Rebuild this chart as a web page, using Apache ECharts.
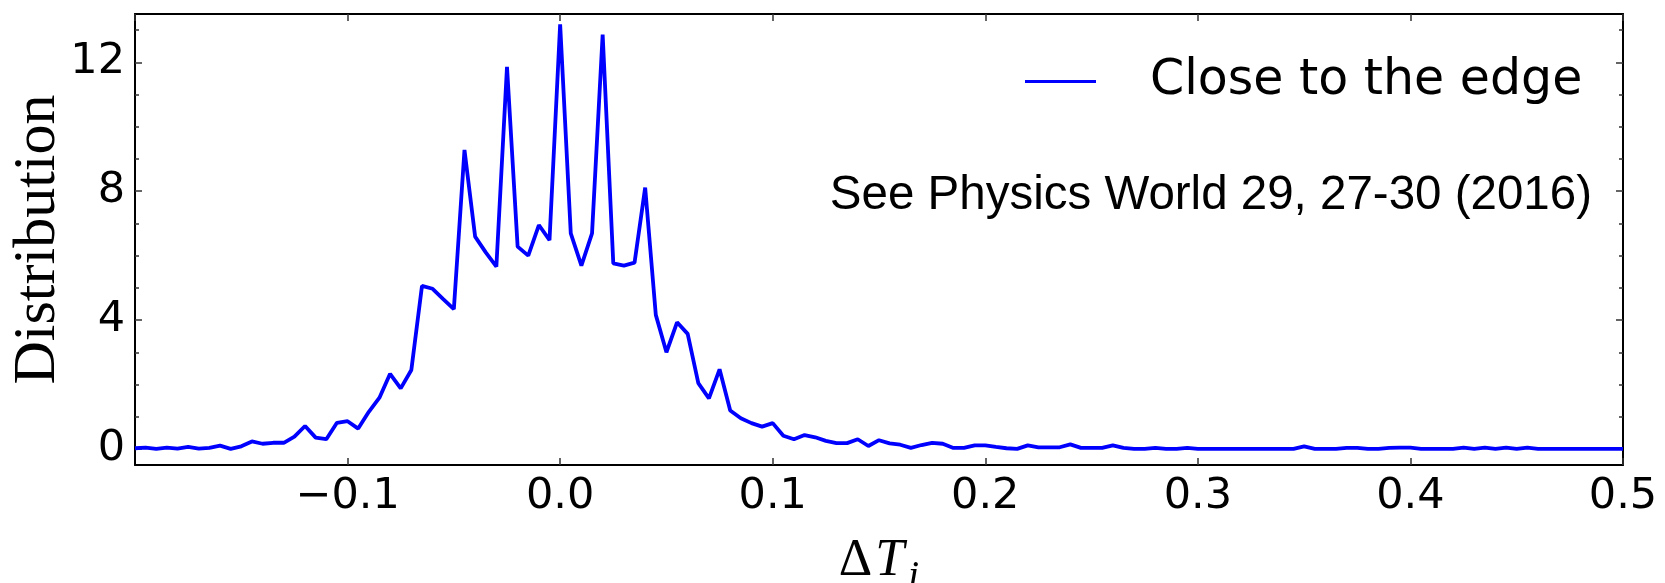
<!DOCTYPE html>
<html>
<head>
<meta charset="utf-8">
<script src="https://cdn.jsdelivr.net/npm/echarts@6/dist/echarts.min.js"></script>
<style>
  html, body { margin: 0; padding: 0; background: #fff; }
  #chart { width: 1665px; height: 583px; }
</style>
</head>
<body>
<div id="chart"></div>
<script>
// Bin centres of the ΔT_i histogram (step 0.005)
const deltaT = [
  -0.200, -0.195, -0.190, -0.185, -0.180, -0.175, -0.170, -0.165, -0.160, -0.155,
  -0.150, -0.145, -0.140, -0.135, -0.130, -0.125, -0.120, -0.115, -0.110, -0.105,
  -0.100, -0.095, -0.090, -0.085, -0.080, -0.075, -0.070, -0.065, -0.060, -0.055,
  -0.050, -0.045, -0.040, -0.035, -0.030, -0.025, -0.020, -0.015, -0.010, -0.005,
   0.000,  0.005,  0.010,  0.015,  0.020,  0.025,  0.030,  0.035,  0.040,  0.045,
   0.050,  0.055,  0.060,  0.065,  0.070,  0.075,  0.080,  0.085,  0.090,  0.095,
   0.100,  0.105,  0.110,  0.115,  0.120,  0.125,  0.130,  0.135,  0.140,  0.145,
   0.150,  0.155,  0.160,  0.165,  0.170,  0.175,  0.180,  0.185,  0.190,  0.195,
   0.200,  0.205,  0.210,  0.215,  0.220,  0.225,  0.230,  0.235,  0.240,  0.245,
   0.250,  0.255,  0.260,  0.265,  0.270,  0.275,  0.280,  0.285,  0.290,  0.295,
   0.300,  0.305,  0.310,  0.315,  0.320,  0.325,  0.330,  0.335,  0.340,  0.345,
   0.350,  0.355,  0.360,  0.365,  0.370,  0.375,  0.380,  0.385,  0.390,  0.395,
   0.400,  0.405,  0.410,  0.415,  0.420,  0.425,  0.430,  0.435,  0.440,  0.445,
   0.450,  0.455,  0.460,  0.465,  0.470,  0.475,  0.480,  0.485,  0.490,  0.495,
   0.500
];

// Distribution values, "Close to the edge"
const closeToEdge = [
  0.02, 0.04, 0.00, 0.04, 0.01, 0.06, 0.01, 0.03, 0.10, 0.00,
  0.08, 0.23, 0.16, 0.19, 0.19, 0.38, 0.71, 0.35, 0.30, 0.81,
  0.86, 0.63, 1.15, 1.59, 2.33, 1.88, 2.45, 5.06, 4.97, 4.65,
  4.34, 9.28, 6.59, 6.10, 5.66, 11.86, 6.28, 6.00, 6.95, 6.48,
  13.18, 6.69, 5.69, 6.69, 12.86, 5.76, 5.69, 5.78, 8.11, 4.16,
  3.00, 3.93, 3.57, 2.04, 1.57, 2.47, 1.19, 0.95, 0.80, 0.69,
  0.80, 0.41, 0.30, 0.43, 0.36, 0.25, 0.18, 0.18, 0.30, 0.09,
  0.27, 0.17, 0.13, 0.03, 0.12, 0.19, 0.16, 0.03, 0.03, 0.11,
  0.11, 0.06, 0.02, 0.00, 0.11, 0.05, 0.05, 0.05, 0.14, 0.03,
  0.03, 0.03, 0.11, 0.03, 0.00, 0.00, 0.03, 0.00, 0.00, 0.03,
  0.00, 0.00, 0.00, 0.00, 0.00, 0.00, 0.00, 0.00, 0.00, 0.00,
  0.08, 0.00, 0.00, 0.00, 0.03, 0.03, 0.00, 0.00, 0.03, 0.04,
  0.04, 0.00, 0.00, 0.00, 0.00, 0.04, 0.00, 0.04, 0.00, 0.04,
  0.00, 0.04, 0.00, 0.00, 0.00, 0.00, 0.00, 0.00, 0.00, 0.00,
  0.00
];

const seriesName = 'Close to the edge';
const noteText = 'See Physics World 29, 27-30 (2016)';
const yMajorTicks = [0, 4, 8, 12];
const yMinorTicks = [0, 1, 2, 3, 4, 5, 6, 7, 8, 9, 10, 11, 12, 13];

const points = deltaT.map((x, i) => [x, closeToEdge[i]]);

const frameLine = { show: true, onZero: false, lineStyle: { color: '#000', width: 2 } };
const hiddenLine = { show: false, onZero: false };
const tickStyle = { color: '#333', width: 1.5 };
const tickFont = { fontFamily: 'DejaVu Sans', fontSize: 43, color: '#000' };

function fmtX(v) {
  const r = Math.round(v * 10) / 10;
  if (r === 0) return '0.0';
  return (r < 0 ? '\u2212' : '') + Math.abs(r).toFixed(1);
}

const chart = echarts.init(document.getElementById('chart'), null, { renderer: 'canvas' });

chart.setOption({
  animation: false,
  backgroundColor: '#fff',
  grid: { left: 135, right: 42, top: 14, bottom: 118, containLabel: false, outerBoundsMode: 'none' },
  xAxis: [
    {
      type: 'value', position: 'bottom', min: -0.2, max: 0.5, interval: 0.1,
      axisLine: frameLine,
      axisTick: { inside: true, length: 7, lineStyle: tickStyle },
      axisLabel: Object.assign({ showMinLabel: false, margin: 10, formatter: fmtX }, tickFont),
      splitLine: { show: false },
      name: '{d|\u0394}{t|T}{s|i}',
      nameLocation: 'middle',
      nameGap: 60,
      nameMoveOverlap: false,
      nameTextStyle: {
        rich: {
          d: { fontFamily: 'Liberation Serif', fontSize: 52, color: '#000', padding: [0, 3, 0, 0] },
          t: { fontFamily: 'Liberation Serif', fontStyle: 'italic', fontSize: 52, color: '#000', padding: [0, 4, 0, 0] },
          s: { fontFamily: 'Liberation Serif', fontStyle: 'italic', fontSize: 40, color: '#000', padding: [32, 0, 0, 0] }
        }
      }
    },
    {
      type: 'value', position: 'top', min: -0.2, max: 0.5, interval: 0.1,
      axisLine: frameLine,
      axisTick: { inside: true, length: 7, lineStyle: tickStyle },
      axisLabel: { show: false },
      splitLine: { show: false }
    }
  ],
  yAxis: [
    {
      type: 'value', position: 'left', min: -0.5, max: 13.5,
      axisLine: frameLine,
      axisTick: { inside: true, length: 7, lineStyle: tickStyle, customValues: yMajorTicks },
      axisLabel: Object.assign({ margin: 10, customValues: yMajorTicks }, tickFont),
      splitLine: { show: false },
      name: 'Distribution',
      nameLocation: 'middle',
      nameGap: 67,
      nameMoveOverlap: false,
      nameTextStyle: { fontFamily: 'Liberation Serif', fontSize: 60, color: '#000' }
    },
    {
      type: 'value', position: 'right', min: -0.5, max: 13.5,
      axisLine: frameLine,
      axisTick: { inside: true, length: 7, lineStyle: tickStyle, customValues: yMajorTicks },
      axisLabel: { show: false },
      splitLine: { show: false }
    },
    {
      type: 'value', position: 'left', min: -0.5, max: 13.5,
      axisLine: hiddenLine,
      axisTick: { inside: true, length: 4, lineStyle: tickStyle, customValues: yMinorTicks },
      axisLabel: { show: false },
      splitLine: { show: false }
    },
    {
      type: 'value', position: 'right', min: -0.5, max: 13.5,
      axisLine: hiddenLine,
      axisTick: { inside: true, length: 4, lineStyle: tickStyle, customValues: yMinorTicks },
      axisLabel: { show: false },
      splitLine: { show: false }
    }
  ],
  legend: {
    left: 1020,
    top: 52,
    icon: 'rect',
    itemWidth: 71,
    itemHeight: 3,
    data: [seriesName],
    textStyle: { fontFamily: 'DejaVu Sans', fontSize: 49, color: '#000', padding: [0, 0, 0, 49] }
  },
  graphic: [
    {
      type: 'text',
      x: 1592,
      y: 196,
      style: {
        text: noteText,
        font: '47.5px "Liberation Sans"',
        fill: '#000',
        textAlign: 'right',
        textVerticalAlign: 'middle'
      }
    }
  ],
  series: [
    {
      name: seriesName,
      type: 'line',
      xAxisIndex: 0,
      yAxisIndex: 0,
      data: points,
      symbol: 'none',
      showSymbol: false,
      lineStyle: { color: '#0000ff', width: 3.8 },
      itemStyle: { color: '#0000ff' }
    }
  ]
});
</script>
</body>
</html>
